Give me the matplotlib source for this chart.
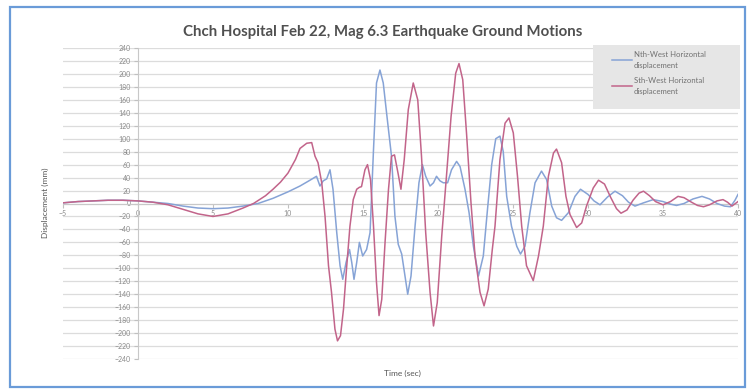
import matplotlib
matplotlib.use("Agg")
import matplotlib.pyplot as plt
from matplotlib.patches import Rectangle
from matplotlib.lines import Line2D

plt.rcParams['font.family'] = ['Lato', 'DejaVu Sans']

# ---- data ----
t_south = [-5, -4, -3, -2, -1, 0, 1, 2, 3, 4, 5, 6, 7, 7.7, 8.5, 9.0, 9.5, 10.0, 10.5,
           10.8, 11.25, 11.58, 11.8, 12.0, 12.25, 12.47, 12.7, 12.9, 13.13, 13.3, 13.5,
           13.7, 13.9, 14.13, 14.35, 14.58, 14.76, 14.9, 15.13, 15.3, 15.5, 15.7, 15.9,
           16.07, 16.25, 16.47, 16.7, 16.9, 17.1, 17.35, 17.53, 17.75, 18.02, 18.35, 18.65,
           18.9, 19.18, 19.47, 19.7, 19.95, 20.25, 20.58, 20.87, 21.18, 21.4, 21.65, 21.9,
           22.2, 22.47, 22.8, 23.07, 23.35, 23.62, 23.8, 24.13, 24.47, 24.73, 25.02, 25.3,
           25.58, 25.9, 26.35, 26.7, 27.02, 27.36, 27.7, 27.9, 28.24, 28.53, 28.8, 29.24,
           29.58, 29.9, 30.35, 30.7, 31.1, 31.5, 31.9, 32.2, 32.6, 33.0, 33.4, 33.7, 34.1,
           34.5, 35.0, 35.5, 36.0, 36.4, 36.9, 37.3, 37.7, 38.1, 38.6, 39.0, 39.3, 39.6, 40.0]
v_south = [1, 3, 4, 5, 5, 4, 2, -2, -9, -16, -20, -16, -7, 0, 12, 22, 33, 47, 68,
           85, 93, 94, 73, 63, 32, -20, -96, -137, -194, -212, -204,
           -163, -101, -35, 6, 22, 25, 26, 52, 60, 37, -35, -122,
           -173, -148, -60, 22, 73, 75, 45, 22, 68, 145, 186, 160,
           73, -45, -137, -189, -153, -50, 47, 134, 201, 216, 191, 109,
           1, -81, -137, -158, -132, -71, -35, 68, 124, 132, 109, 42,
           -35, -96, -119, -81, -35, 42, 78, 84, 63, 11, -17, -37,
           -30, -4, 24, 36, 30, 10, -8, -15, -10, 5, 16, 19, 12,
           3, -2, 3, 11, 9, 2, -3, -5, -2, 4, 6, 2, -4, 3]

t_north = [-5, -4, -3, -2, -1, 0, 1, 2, 3, 4, 5, 6, 7, 8, 9, 10, 10.8, 11.47, 11.9,
           12.13, 12.35, 12.58, 12.8, 13.0, 13.25, 13.47, 13.65, 13.87, 14.1, 14.25, 14.4,
           14.58, 14.76, 14.98, 15.24, 15.47, 15.7, 15.9, 16.13, 16.35, 16.6, 16.9, 17.13,
           17.35, 17.58, 17.8, 17.98, 18.2, 18.47, 18.73, 18.96, 19.18, 19.47, 19.7, 19.9,
           20.13, 20.35, 20.64, 20.9, 21.24, 21.47, 21.8, 22.07, 22.36, 22.7, 23.02, 23.3,
           23.58, 23.85, 24.13, 24.35, 24.58, 24.9, 25.25, 25.5, 25.8, 26.13, 26.47, 26.9,
           27.24, 27.58, 27.9, 28.24, 28.7, 29.13, 29.5, 30.0, 30.4, 30.8, 31.3, 31.8, 32.3,
           32.7, 33.13, 33.7, 34.35, 35.0, 35.5, 35.9, 36.4, 37.0, 37.6, 38.1, 38.6, 39.1,
           39.5, 39.8, 40.0]
v_north = [1, 3, 4, 5, 5, 4, 2, 0, -4, -7, -8, -7, -4, 0, 8, 18, 27, 36, 42,
           27, 35, 38, 52, 22, -45, -96, -117, -91, -71, -91, -117,
           -91, -60, -81, -71, -45, 83, 186, 206, 186, 134, 73, -20,
           -63, -78, -112, -140, -112, -35, 32, 60, 42, 27, 32, 42,
           35, 32, 32, 52, 65, 57, 22, -14, -66, -112, -81, -9,
           60, 100, 104, 80, 11, -35, -66, -78, -66, -14, 32, 50,
           37, -4, -22, -26, -14, 11, 22, 14, 4, -2, 10, 19, 12,
           2, -4, 1, 6, 3, -1, -3, 0, 7, 11, 7, 0, -4,
           -5, 5, 14]

x_ticks = [-5, 0, 5, 10, 15, 20, 25, 30, 35, 40]
y_ticks = list(range(-240, 241, 20))

title = "Chch Hospital Feb 22, Mag 6.3 Earthquake Ground Motions"
label_north = "Nth-West Horizontal\ndisplacement"
label_south = "Sth-West Horizontal\ndisplacement"

W, H = 747, 389
fig = plt.figure(figsize=(W / 100, H / 100), dpi=100)
fig.patch.set_facecolor('white')

# outer blue frame
fig.patches.append(Rectangle((10 / W, 1 - 387 / H), 735 / W, 380 / H, transform=fig.transFigure,
                             fill=False, edgecolor='#6a9bd8', linewidth=1.6))

ax = fig.add_axes([63 / W, 1 - 359 / H, 675 / W, 311 / H])
ax.set_xlim(-5, 40)
ax.set_ylim(-240, 240)
ax.set_facecolor('none')

blue = '#86a3d6'
red = '#c2648a'
ax.plot(t_north, v_north, color=blue, lw=1.1, zorder=3, solid_joinstyle='round')
ax.plot(t_south, v_south, color=red, lw=1.1, zorder=3, solid_joinstyle='round')

ax.set_yticks(y_ticks)
ax.set_xticks(x_ticks)
ax.yaxis.grid(True, color='#dcdcdc', lw=0.9)
ax.set_axisbelow(True)

for s in ['top', 'right']:
    ax.spines[s].set_visible(False)
ax.spines['left'].set_position(('data', 0))
ax.spines['bottom'].set_position(('data', 0))
ax.spines['left'].set_color('#c8c8c8')
ax.spines['bottom'].set_color('#c8c8c8')
ax.tick_params(axis='both', colors='#c0c0c0', labelcolor='#8a8a8a', labelsize=5, length=3, width=0.8)
ax.tick_params(axis='y', pad=2)
ax.tick_params(axis='x', pad=2)

fig.text(383 / W, 1 - 32 / H, title, ha='center', va='center', fontsize=10.8,
         fontweight='bold', color='#505050')
fig.text(45 / W, 1 - 203 / H, "Displacement (mm)", rotation=90, ha='center', va='center',
         fontsize=6, color='#555555')
fig.text(402 / W, 1 - 373 / H, "Time (sec)", ha='center', va='center', fontsize=6,
         color='#555555')

# legend box
fig.patches.append(Rectangle((593 / W, 1 - 109 / H), 147 / W, 64 / H, transform=fig.transFigure,
                             facecolor='#e6e6e6', edgecolor='none', zorder=4))
handles = [Line2D([], [], color=blue, lw=1.1), Line2D([], [], color=red, lw=1.1)]
leg = fig.legend(handles, [label_north, label_south], loc='upper left',
                 bbox_to_anchor=(612 / W, 1 - 51 / H), frameon=False, fontsize=5.6,
                 handlelength=2.6, handletextpad=0.2, labelspacing=1.0, labelcolor='#707070',
                 borderpad=0, borderaxespad=0)
for txt in leg.get_texts():
    txt.set_linespacing(1.7)
leg.set_zorder(5)

fig.savefig("out.png", dpi=100, facecolor='white')
